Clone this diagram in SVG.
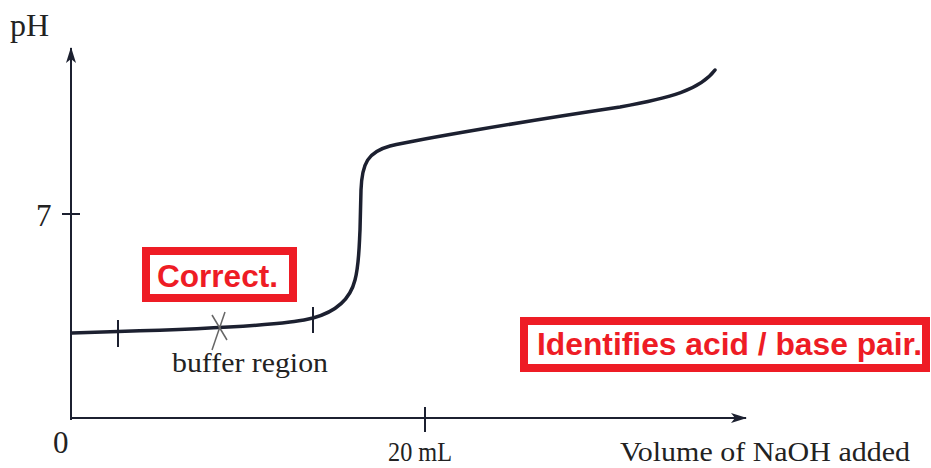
<svg xmlns="http://www.w3.org/2000/svg" width="931" height="468" viewBox="0 0 931 468">
<style>
.ax{stroke:#1c2030;stroke-width:2;fill:none}
.crv{stroke:#1c2030;stroke-width:3.5;fill:none;stroke-linecap:round}
.lbl{font-family:"Liberation Serif",serif;fill:#222;font-size:28px}
.box{fill:#fff;stroke:#ee1c25;stroke-width:8}
.rt{font-family:"Liberation Sans",sans-serif;font-weight:bold;fill:#ee1c25;font-size:31.5px}
</style>
<defs>
<marker id="ah" viewBox="0 0 16 10" refX="15" refY="5" markerWidth="16" markerHeight="10" markerUnits="userSpaceOnUse" orient="auto">
<path d="M0,0 L16,5 L0,10 L4,5 Z" fill="#1c2030"/>
</marker>
</defs>
<rect width="931" height="468" fill="#fff"/>
<g id="connectors">
<line id="y-axis" class="ax" x1="71" y1="420" x2="71" y2="48" marker-end="url(#ah)"/>
<line id="x-axis" class="ax" x1="70" y1="418" x2="746" y2="418" marker-end="url(#ah)"/>
<line class="ax" x1="62" y1="214" x2="80" y2="214"/>
<line class="ax" x1="425" y1="407" x2="425" y2="432"/>
<path id="curve" class="crv" d="M72,333 L118,331.5 C170,330 250,327 290,322 C300,321 308,319 313,318 C335,312 350,300 355,280 C359,265 359,250 360,230 L361,190 C362,163 368,152 390,146 C420,139 520,122 620,107 C670,98 700,90 715,70"/>
<line class="ax" x1="118" y1="320" x2="118" y2="347" stroke-width="2.5"/>
<line class="ax" x1="313" y1="307" x2="313" y2="333" stroke-width="2.5"/>
<line x1="212" y1="315" x2="227" y2="340" stroke="#666" stroke-width="1.5"/>
<line x1="225" y1="312" x2="212" y2="350" stroke="#666" stroke-width="1.5"/>
</g>
<g id="labels">
<text class="lbl" x="10" y="36" style="font-size:32px">pH</text>
<text class="lbl" x="36" y="226" style="font-size:31px">7</text>
<text class="lbl" x="53" y="453" style="font-size:31px">0</text>
<text class="lbl" x="388" y="461" textLength="64" lengthAdjust="spacingAndGlyphs">20 mL</text>
<text class="lbl" x="620" y="461" textLength="290" lengthAdjust="spacingAndGlyphs">Volume of NaOH added</text>
<text class="lbl" x="172" y="372" textLength="156" lengthAdjust="spacingAndGlyphs">buffer region</text>
</g>
<g id="correct">
<rect class="box" x="146" y="251" width="147" height="47"/>
<text class="rt" x="157" y="287" textLength="121" lengthAdjust="spacingAndGlyphs">Correct.</text>
</g>
<g id="identifies">
<rect class="box" x="524" y="321" width="402" height="47"/>
<text class="rt" x="537" y="355" textLength="385" lengthAdjust="spacingAndGlyphs">Identifies acid / base pair.</text>
</g>
</svg>
